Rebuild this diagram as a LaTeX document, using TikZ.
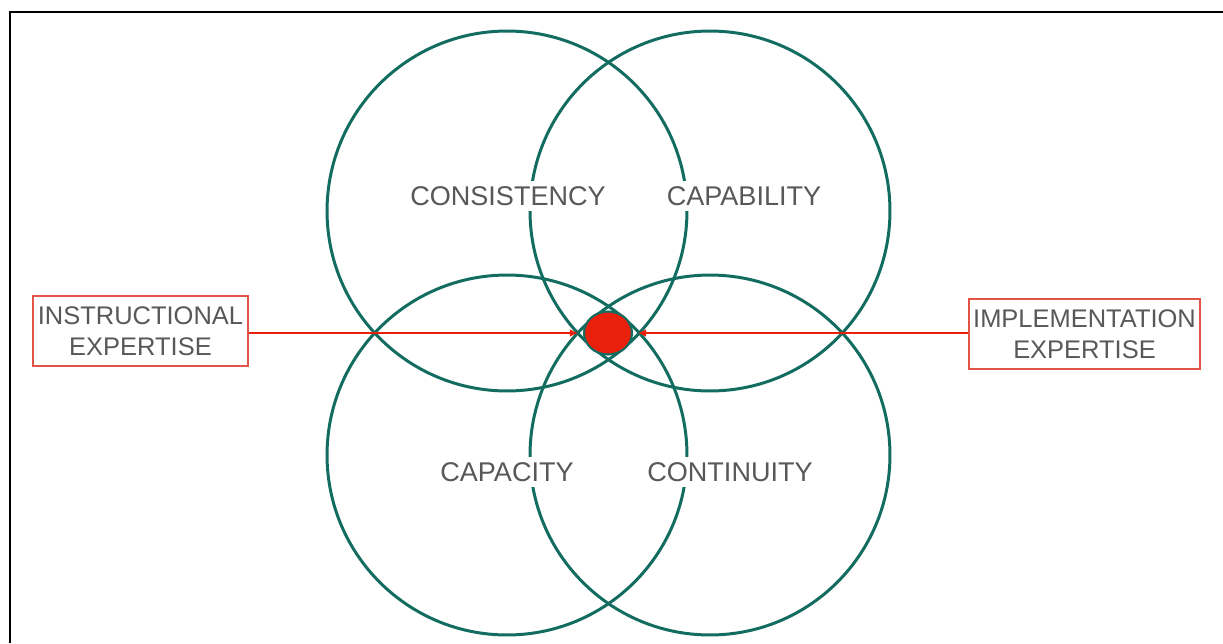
\documentclass[tikz,border=0pt]{standalone}
\usepackage{fontspec}
\setmainfont{Liberation Sans}
\usetikzlibrary{arrows.meta,positioning,shapes.geometric}
\definecolor{ringteal}{RGB}{18,108,96}
\definecolor{boxred}{RGB}{226,84,72}
\definecolor{corered}{RGB}{232,32,12}
\definecolor{textgray}{RGB}{88,88,88}

\begin{document}
\begin{tikzpicture}[
  x=0.02cm,
  y=-0.02cm,
  ring/.style={
    draw=ringteal,
    line width=1.7pt,
    circle,
    minimum size=7.2cm
  },
  word/.style={
    text=textgray,
    fill=white,
    font=\fontsize{15.4}{18}\selectfont
  },
  expert/.style={
    draw=boxred,
    line width=.8pt,
    align=center,
    text=textgray,
    font=\fontsize{14.5}{17.5}\selectfont,
    minimum height=1.4cm,
    inner sep=1pt
  },
  feed/.style={
    -{Latex[length=1.6mm,width=1.5mm]},
    draw=corered,
    line width=.6pt,
    shorten >=.1cm
  }
]
\useasboundingbox (0,0) rectangle (1223,643);
\draw[line width=1.1pt] (10,643) -- (10,12) -- (1223,12);

\node[ring] (consist) at (507,211) {};
\node[ring] (capab) at (710,211) {};
\node[ring] (capac) at (507,455) {};
\node[ring] (contin) at (710,455) {};

\node[word] at (508,196) {CONSISTENCY};
\node[word] at (744,196) {CAPABILITY};
\node[word] at (507,472) {CAPACITY};
\node[word] at (730,472) {CONTINUITY};

\node[ellipse,draw=ringteal,line width=1.2pt,fill=corered,
  minimum width=.96cm,minimum height=.86cm,inner sep=0pt]
  (core) at (608,333) {};

\node[expert,minimum width=4.3cm] (instr) at (140.5,331)
  {INSTRUCTIONAL\\EXPERTISE};
\node[expert,minimum width=4.62cm] (impl) at (1084.5,334)
  {IMPLEMENTATION\\EXPERTISE};

\draw[feed] (instr.east |- core.west) -- (core.west);
\draw[feed] (impl.west |- core.east) -- (core.east);
\end{tikzpicture}
\end{document}
